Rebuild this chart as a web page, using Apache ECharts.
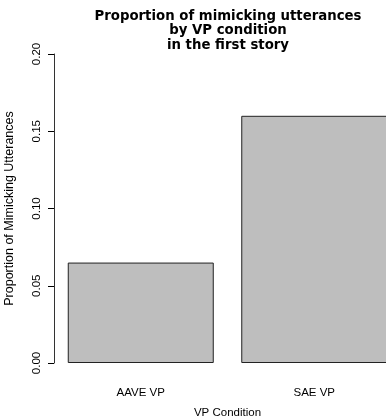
<!DOCTYPE html>
<html>
<head>
<meta charset="utf-8">
<script src="https://cdn.jsdelivr.net/npm/echarts@6/dist/echarts.min.js"></script>
<style>
  html, body { margin: 0; padding: 0; background: #fff; }
  #chart { width: 386px; height: 420px; }
</style>
</head>
<body>
<div id="chart"></div>
<script>
// Proportion of mimicking utterances per VP condition (first story)
var conditions = ['AAVE VP', 'SAE VP'];
var proportions = [0.065, 0.16];
var yTicks = [0, 0.05, 0.10, 0.15, 0.20];

var chart = echarts.init(document.getElementById('chart'), null, { renderer: 'canvas' });
var FONT = '"Liberation Sans", Arial, Helvetica, sans-serif';

chart.setOption({
  animation: false,
  backgroundColor: '#ffffff',
  title: {
    text: 'Proportion of mimicking utterances\nby VP condition\nin the first story',
    left: 223,
    top: 4,
    textAlign: 'center',
    textStyle: {
      fontFamily: '"DejaVu Sans", sans-serif',
      fontSize: 13.3,
      fontWeight: 'bold',
      color: '#000',
      lineHeight: 14.5
    }
  },
  grid: {
    left: 54,
    top: 54,
    width: 347,
    height: 309,
    containLabel: false,
    outerBoundsMode: 'none'
  },
  xAxis: {
    type: 'category',
    data: conditions,
    name: 'VP Condition',
    nameLocation: 'middle',
    nameGap: 44,
    nameTextStyle: { fontFamily: FONT, fontSize: 11.5, color: '#000' },
    axisLine: { show: false },
    axisTick: { show: false },
    axisLabel: { margin: 24, fontFamily: FONT, fontSize: 11.5, color: '#000' },
    splitLine: { show: false }
  },
  yAxis: {
    type: 'value',
    min: yTicks[0],
    max: yTicks[yTicks.length - 1],
    interval: yTicks[1] - yTicks[0],
    name: 'Proportion of Mimicking Utterances',
    nameLocation: 'middle',
    nameRotate: 90,
    nameGap: 38,
    nameTextStyle: { fontFamily: FONT, fontSize: 12.5, color: '#000' },
    axisLine: { show: true, lineStyle: { color: '#333', width: 1 } },
    axisTick: { show: true, length: 6, lineStyle: { color: '#000', width: 1 } },
    axisLabel: {
      rotate: 90,
      margin: 11,
      fontFamily: FONT,
      fontSize: 11.5,
      color: '#000',
      formatter: function (v) { return v.toFixed(2); }
    },
    splitLine: { show: false }
  },
  series: [{
    type: 'bar',
    data: proportions,
    barWidth: 146,
    itemStyle: {
      color: '#bebebe',
      borderColor: '#222',
      borderWidth: 1
    }
  }]
});
</script>
</body>
</html>
